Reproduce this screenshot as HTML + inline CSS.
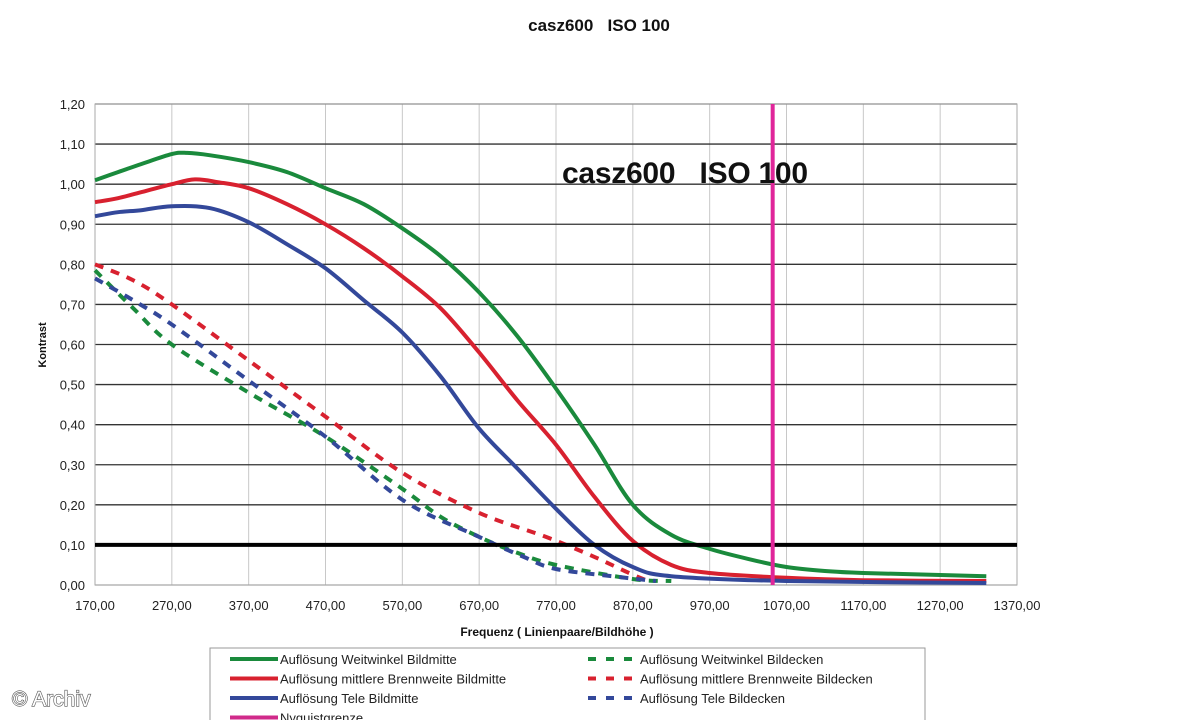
<!DOCTYPE html>
<html><head><meta charset="utf-8">
<style>
body{margin:0;background:#fff;width:1199px;height:720px;overflow:hidden;font-family:"Liberation Sans",Arial,sans-serif;}
svg{position:absolute;left:0;top:0}
</style></head>
<body>
<svg id="chart" width="1199" height="720"></svg>
<script>
const xTicks=[170,270,370,470,570,670,770,870,970,1070,1170,1270,1370];
const yTicks=[0,0.1,0.2,0.3,0.4,0.5,0.6,0.7,0.8,0.9,1.0,1.1,1.2];
const greenX=[170,200,230,270,290,320,370,420,470,520,570,620,670,720,770,820,870,920,970,1020,1070,1120,1170,1270,1330];
const greenY=[1.01,1.03,1.05,1.075,1.078,1.072,1.055,1.03,0.99,0.95,0.89,0.82,0.73,0.62,0.49,0.35,0.2,0.125,0.09,0.065,0.045,0.035,0.03,0.025,0.022];
const redX=[170,200,230,270,300,330,370,420,470,520,570,620,670,720,770,820,870,920,970,1070,1170,1330];
const redY=[0.955,0.965,0.98,1.0,1.012,1.005,0.99,0.95,0.9,0.84,0.77,0.69,0.58,0.46,0.35,0.22,0.11,0.05,0.03,0.018,0.012,0.01];
const blueX=[170,200,230,270,320,370,420,470,520,570,620,670,720,770,820,870,920,1070,1330];
const blueY=[0.92,0.93,0.935,0.945,0.94,0.905,0.85,0.79,0.71,0.63,0.52,0.39,0.29,0.19,0.1,0.045,0.022,0.01,0.005];
const greenDX=[170,220,270,370,470,570,620,670,720,770,870,920];
const greenDY=[0.785,0.69,0.6,0.48,0.37,0.24,0.17,0.12,0.08,0.05,0.015,0.01];
const redDX=[170,220,270,370,470,570,670,757,820,865,890];
const redDY=[0.80,0.76,0.70,0.56,0.42,0.28,0.18,0.12,0.07,0.03,0.01];
const blueDX=[170,220,270,370,470,572,670,728,770,852,900];
const blueDY=[0.765,0.71,0.65,0.51,0.37,0.21,0.12,0.07,0.04,0.02,0.01];
const nyquistX=1052;
const thresholdY=0.1;

const X0=95,X1=1017,Y0=585,Y1=104;
const sx=v=>X0+(v-170)/1200*(X1-X0);
const sy=v=>Y0-v/1.2*(Y0-Y1);
const NS="http://www.w3.org/2000/svg";
const svg=document.getElementById('chart');
function el(t,a,txt){const e=document.createElementNS(NS,t);for(const k in a)e.setAttribute(k,a[k]);if(txt!==undefined)e.textContent=txt;svg.appendChild(e);return e;}
const fmt=v=>v.toFixed(2).replace('.',',');

xTicks.forEach(v=>{const g=el('line',{x1:sx(v),x2:sx(v),y1:Y1,y2:Y0,stroke:'#c8c8c8','stroke-width':1});


const t=el('text',{x:sx(v),y:610,'text-anchor':'middle','font-size':13,fill:'#222'},fmt(v));

});
yTicks.forEach(v=>{const g=el('line',{x1:X0,x2:X1,y1:sy(v),y2:sy(v),stroke:v===0?'#999':'#333','stroke-width':1.3});


const t=el('text',{x:85,y:sy(v)+5,'text-anchor':'end','font-size':13,fill:'#222'},fmt(v));

});
const fr=el('rect',{x:X0,y:Y1,width:X1-X0,height:Y0-Y1,fill:'none',stroke:'#aaa'});



function series(xs,ys,color,dash,name){
 const P=xs.map((x,i)=>[sx(x),sy(ys[i])]);
 let d='M'+P[0][0].toFixed(1)+','+P[0][1].toFixed(1);
 for(let i=0;i<P.length-1;i++){
  const p0=P[Math.max(0,i-1)],p1=P[i],p2=P[i+1],p3=P[Math.min(P.length-1,i+2)];
  const c1=[p1[0]+(p2[0]-p0[0])/6,p1[1]+(p2[1]-p0[1])/6];
  const c2=[p2[0]-(p3[0]-p1[0])/6,p2[1]-(p3[1]-p1[1])/6];
  d+=' C'+c1[0].toFixed(1)+','+c1[1].toFixed(1)+' '+c2[0].toFixed(1)+','+c2[1].toFixed(1)+' '+p2[0].toFixed(1)+','+p2[1].toFixed(1);
 }
 const p=el('path',{d:d,fill:'none',stroke:color,'stroke-width':4,'stroke-linejoin':'round','stroke-dasharray':dash||'none'});
 
 
}
series(greenDX,greenDY,'#1a8a3c','9,8','series-weitwinkel-bildecken');
series(redDX,redDY,'#d8212f','9,8','series-mittlere-bildecken');
series(blueDX,blueDY,'#33489a','9,8','series-tele-bildecken');
series(greenX,greenY,'#1a8a3c',null,'series-weitwinkel-bildmitte');
series(redX,redY,'#d8212f',null,'series-mittlere-bildmitte');
series(blueX,blueY,'#33489a',null,'series-tele-bildmitte');

const th=el('line',{x1:X0,x2:X1,y1:sy(thresholdY),y2:sy(thresholdY),stroke:'#000','stroke-width':4});


const ny=el('line',{x1:sx(nyquistX),x2:sx(nyquistX),y1:Y1,y2:Y0,stroke:'#e0269a','stroke-width':4});



const t1=el('text',{x:599,y:31,'text-anchor':'middle','font-size':17,'font-weight':'bold',fill:'#111'},'casz600   ISO 100');


t1.style.whiteSpace='pre';
const t2=el('text',{x:562,y:183,'font-size':30,'font-weight':'bold',fill:'#111',textLength:246,lengthAdjust:'spacing'},'casz600   ISO 100');


t2.style.whiteSpace='pre';
const yl=el('text',{x:0,y:0,'text-anchor':'middle','font-size':11,'font-weight':'bold',fill:'#111',transform:'translate(46,345) rotate(-90)'},'Kontrast');


const xl=el('text',{x:557,y:636,'text-anchor':'middle','font-size':12,'font-weight':'bold',fill:'#111'},'Frequenz ( Linienpaare/Bildhöhe )');



const lb=el('rect',{x:210,y:648,width:715,height:80,fill:'#fff',stroke:'#999'});


const leg=[['Auflösung Weitwinkel Bildmitte','#1a8a3c',0,0,0],['Auflösung mittlere Brennweite Bildmitte','#d8212f',0,1,0],['Auflösung Tele Bildmitte','#33489a',0,2,0],['Nyquistgrenze','#d02a8a',0,3,0],
['Auflösung Weitwinkel Bildecken','#1a8a3c',1,0,1],['Auflösung mittlere Brennweite Bildecken','#d8212f',1,1,1],['Auflösung Tele Bildecken','#33489a',1,2,1]];
leg.forEach(l=>{const bx=l[2]?588:230,y=659+l[3]*19.5;
 const ln=el('line',{x1:bx,x2:bx+48,y1:y,y2:y,stroke:l[1],'stroke-width':4,'stroke-dasharray':l[4]?'8,10':'none'});
 
 
 const t=el('text',{x:l[4]?bx+52:bx+50,y:y+5,'font-size':13,fill:'#222'},l[0]);
 
 
});
const ar=el('text',{x:12,y:706,'font-size':21,fill:'#fff',stroke:'#555','stroke-width':1.2,'paint-order':'stroke'},'© Archiv');


</script>
</body></html>
